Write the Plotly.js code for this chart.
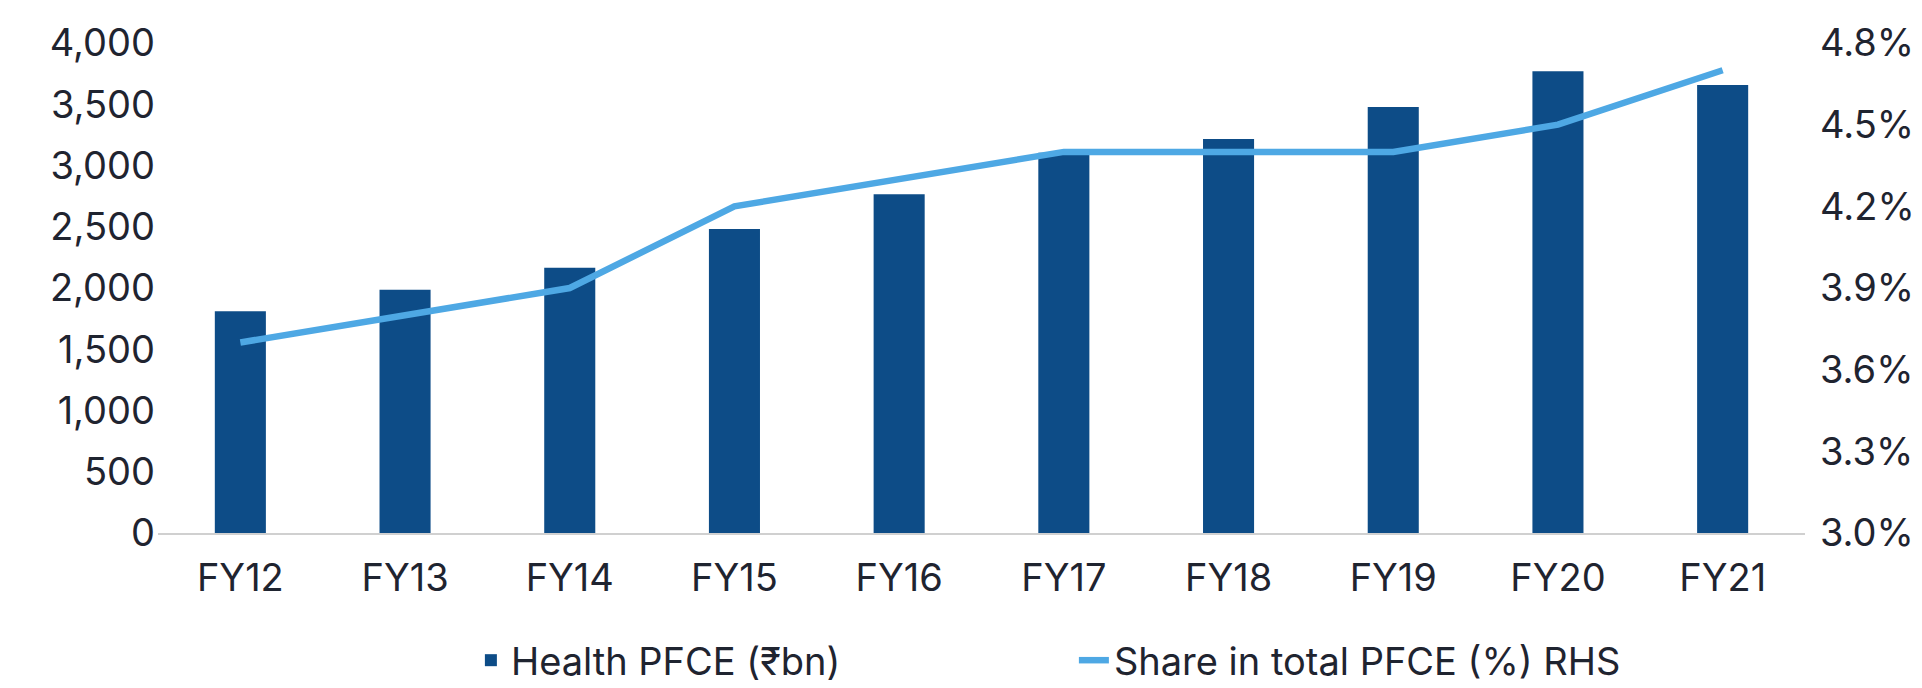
<!DOCTYPE html>
<html>
<head>
<meta charset="utf-8">
<script src="https://cdn.plot.ly/plotly-3.0.1.min.js"></script>
<style>html,body{margin:0;padding:0;background:#fff;}#chart{width:1922px;height:688px;}</style>
</head>
<body>
<div id="chart"></div>
<script>
const categories = ["FY12","FY13","FY14","FY15","FY16","FY17","FY18","FY19","FY20","FY21"];
const healthPFCE = [1810, 1985, 2165, 2482, 2766, 3105, 3216, 3478, 3770, 3657];
const sharePct = [3.70, 3.80, 3.90, 4.20, 4.30, 4.40, 4.40, 4.40, 4.50, 4.70];
const leftTicks = [0, 500, 1000, 1500, 2000, 2500, 3000, 3500, 4000];
const rightTicks = [3.0, 3.3, 3.6, 3.9, 4.2, 4.5, 4.8];

const FONT = "Inter, 'Open Sans', sans-serif";
const TXT = "#1f2430";

const traces = [
  {
    type: "bar", x: categories, y: healthPFCE, name: "Health PFCE (₹bn)",
    marker: {color: "#0d4c87"}, yaxis: "y"
  },
  {
    type: "scatter", mode: "lines", x: categories, y: sharePct, name: "Share in total PFCE (%) RHS",
    line: {color: "#4ea8e4", width: 6.5}, yaxis: "y2"
  }
];

const layout = {
  width: 1922, height: 688,
  margin: {l: 158, r: 117, t: 43, b: 155, autoexpand: false},
  paper_bgcolor: "#fff", plot_bgcolor: "#fff",
  font: {family: FONT, color: TXT, size: 38},
  bargap: 0.69,
  showlegend: true,
  legend: {orientation: "h", xref: "container", yref: "container",
           x: 0.245, xanchor: "left", y: 0.04, yanchor: "middle",
           font: {family: FONT, size: 38, color: TXT},
           itemwidth: 30, entrywidth: 558, traceorder: "normal"},
  xaxis: {
    type: "category", showgrid: false, zeroline: false, automargin: false,
    showline: true, linecolor: "#d0d0d0", linewidth: 2,
    ticks: "", tickfont: {family: FONT, size: 38, color: TXT}, ticklabelstandoff: 10
  },
  yaxis: {
    range: [0, 4000], tickvals: leftTicks, ticktext: leftTicks.map(v => v.toLocaleString("en-US")),
    showgrid: false, zeroline: false, showline: false, ticks: "", automargin: false,
    tickfont: {family: FONT, size: 38, color: TXT}, ticklabelstandoff: 2
  },
  yaxis2: {
    overlaying: "y", side: "right", range: [3.0, 4.8], automargin: false,
    tickvals: rightTicks, ticktext: rightTicks.map(v => v.toFixed(1) + "%"),
    showgrid: false, zeroline: false, showline: false, ticks: "",
    tickfont: {family: FONT, size: 38, color: TXT}, ticklabelstandoff: 14
  }
};

Plotly.newPlot("chart", traces, layout, {displayModeBar: false, staticPlot: true});
</script>
</body>
</html>
